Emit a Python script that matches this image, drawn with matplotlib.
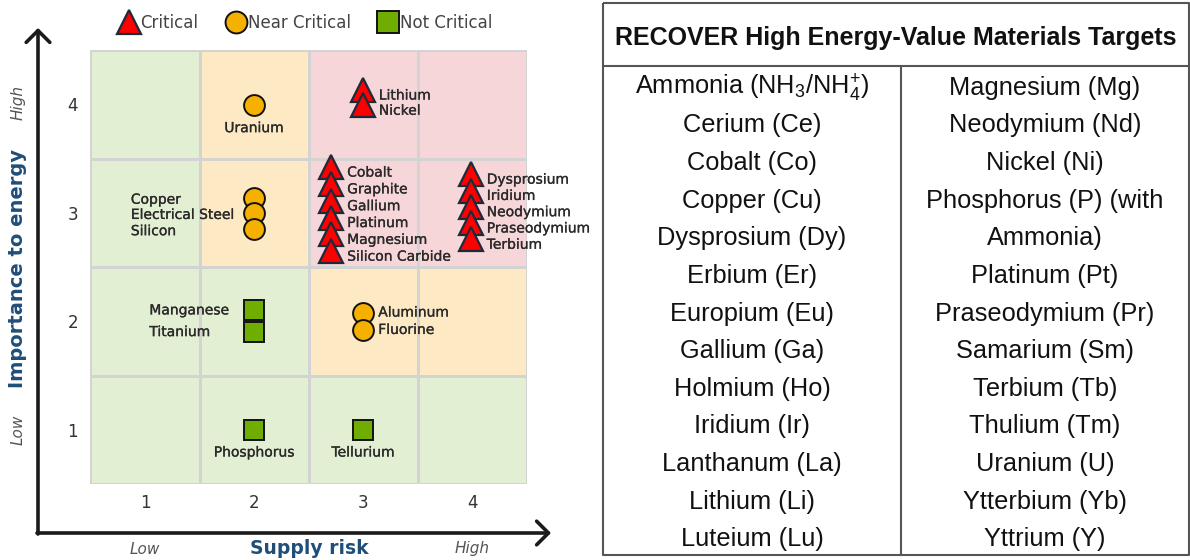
import matplotlib
matplotlib.use('Agg')
import matplotlib.pyplot as plt
import matplotlib.patheffects as pe
from matplotlib.colors import ListedColormap
from matplotlib.lines import Line2D

plt.rcParams['mathtext.fontset'] = 'custom'
plt.rcParams['mathtext.rm'] = 'Liberation Sans'

# ---- data ----
levels = [1, 2, 3, 4]
# zone of every cell, rows = importance 1..4, cols = supply risk 1..4
# 0 = not critical, 1 = near critical, 2 = critical
zones = [[0, 0, 0, 0],
         [0, 0, 1, 1],
         [0, 1, 2, 2],
         [0, 1, 2, 2]]

crit_top = ['Lithium', 'Nickel']
crit_top_x = [3.0, 3.0]
crit_top_y = [4.13, 3.99]
crit_mid = ['Cobalt', 'Graphite', 'Gallium', 'Platinum', 'Magnesium', 'Silicon Carbide']
crit_mid_x = [2.71, 2.71, 2.71, 2.71, 2.71, 2.71]
crit_mid_y = [3.42, 3.265, 3.11, 2.955, 2.80, 2.645]
crit_right = ['Dysprosium', 'Iridium', 'Neodymium', 'Praseodymium', 'Terbium']
crit_right_x = [3.99, 3.99, 3.99, 3.99, 3.99]
crit_right_y = [3.355, 3.205, 3.055, 2.905, 2.755]

near_uranium = ['Uranium']
near_uranium_x = [2.0]
near_uranium_y = [3.99]
near_left = ['Copper', 'Electrical Steel', 'Silicon']
near_left_x = [2.0, 2.0, 2.0]
near_left_y = [3.14, 3.0, 2.85]
near_right = ['Aluminum', 'Fluorine']
near_right_x = [3.0, 3.0]
near_right_y = [2.08, 1.92]

notc_left = ['Manganese', 'Titanium']
notc_left_x = [2.0, 2.0]
notc_left_y = [2.10, 1.90]
notc_low = ['Phosphorus', 'Tellurium']
notc_low_x = [2.0, 3.0]
notc_low_y = [1.0, 1.0]

table_title = 'RECOVER High Energy-Value Materials Targets'
table_left = ['Ammonia (NH$_3$/NH$_4^{+}$)', 'Cerium (Ce)', 'Cobalt (Co)', 'Copper (Cu)',
              'Dysprosium (Dy)', 'Erbium (Er)', 'Europium (Eu)', 'Gallium (Ga)',
              'Holmium (Ho)', 'Iridium (Ir)', 'Lanthanum (La)', 'Lithium (Li)', 'Luteium (Lu)']
table_right = ['Magnesium (Mg)', 'Neodymium (Nd)', 'Nickel (Ni)', 'Phosphorus (P) (with',
               'Ammonia)', 'Platinum (Pt)', 'Praseodymium (Pr)', 'Samarium (Sm)',
               'Terbium (Tb)', 'Thulium (Tm)', 'Uranium (U)', 'Ytterbium (Yb)', 'Yttrium (Y)']

# ---- style ----
zone_colors = ['#e3efd3', '#fdeac4', '#f7d6d9']
tri_style = dict(marker='^', markersize=17, markerfacecolor='#ff0000',
                 markeredgecolor='#1c2b3c', markeredgewidth=1.6, linestyle='none')
circ_style = dict(marker='o', markersize=15, markerfacecolor='#f6b100',
                  markeredgecolor='#111111', markeredgewidth=1.4, linestyle='none')
sq_style = dict(marker='s', markersize=15, markerfacecolor='#6fad00',
                markeredgecolor='#111111', markeredgewidth=1.4, linestyle='none')
lab = dict(fontsize=10, color='#2a2a2a',
           path_effects=[pe.withStroke(linewidth=0.2, foreground='#2a2a2a')])
blue = '#1f4e79'

W, H = 1190, 560
fig = plt.figure(figsize=(W / 100, H / 100), dpi=100)

# background overlay in pixel units (arrows, table)
bg = fig.add_axes([0, 0, 1, 1])
bg.set_xlim(0, W)
bg.set_ylim(H, 0)
bg.axis('off')

arrow = dict(arrowstyle='->,head_length=0.85,head_width=0.85', lw=2.6,
             color='#1a1a1a', shrinkA=0, shrinkB=0)
bg.annotate('', xy=(38, 28), xytext=(38, 534), arrowprops=arrow)
bg.annotate('', xy=(551, 533), xytext=(37, 533), arrowprops=arrow)

# ---- matrix chart ----
ax = fig.add_axes([90.5 / W, 1 - 484 / H, 436 / W, 434 / H])
edges = [0.5, 1.5, 2.5, 3.5, 4.5]
ax.pcolormesh(edges, edges, zones, cmap=ListedColormap(zone_colors),
              vmin=-0.5, vmax=2.5, edgecolors='#d3d3d3', linewidth=0.8)
ax.set_xlim(0.5, 4.5)
ax.set_ylim(0.5, 4.5)
ax.set_xticks(levels)
ax.set_yticks(levels)
ax.tick_params(length=0, labelsize=12, labelcolor='#333333')
ax.tick_params(axis='x', pad=7)
ax.tick_params(axis='y', pad=9)
for s in ax.spines.values():
    s.set_visible(False)

# critical
ax.plot(crit_top_x, crit_top_y, **tri_style)
ax.plot(crit_mid_x, crit_mid_y, **tri_style)
ax.plot(crit_right_x, crit_right_y, **tri_style)
for names, xs, ys in [(crit_top, crit_top_x, crit_top_y),
                      (crit_mid, crit_mid_x, crit_mid_y),
                      (crit_right, crit_right_x, crit_right_y)]:
    for n, x, y in zip(names, xs, ys):
        ax.text(x + 0.145, y - 0.05, n, ha='left', va='center', **lab)

# near critical
ax.plot(near_uranium_x, near_uranium_y, **circ_style)
ax.plot(near_left_x, near_left_y, **circ_style)
ax.plot(near_right_x, near_right_y, **circ_style)
for n, x, y in zip(near_uranium, near_uranium_x, near_uranium_y):
    ax.text(x, y - 0.21, n, ha='center', va='center', **lab)
for n, x, y in zip(near_left, near_left_x, near_left_y):
    ax.text(x - 1.13, y - 0.02, n, ha='left', va='center', **lab)
for n, x, y in zip(near_right, near_right_x, near_right_y):
    ax.text(x + 0.14, y, n, ha='left', va='center', **lab)

# not critical
ax.plot(notc_left_x, notc_left_y, **sq_style)
ax.plot(notc_low_x, notc_low_y, **sq_style)
for n, x, y in zip(notc_left, notc_left_x, notc_left_y):
    ax.text(x - 0.96, y, n, ha='left', va='center', **lab)
for n, x, y in zip(notc_low, notc_low_x, notc_low_y):
    ax.text(x, y - 0.21, n, ha='center', va='center', **lab)

# legend
handles = [Line2D([], [], **tri_style), Line2D([], [], **circ_style), Line2D([], [], **sq_style)]
fig.legend(handles, ['Critical', 'Near Critical', 'Not Critical'], ncol=3, frameon=False,
           loc='center', bbox_to_anchor=(305 / W, 1 - 23 / H), fontsize=12,
           labelcolor='#444444', handletextpad=0.05, columnspacing=1.6, handlelength=1.3,
           markerscale=1.05)

# axis words
fig.text(309 / W, 1 - 549 / H, 'Supply risk', ha='center', va='center',
         fontsize=13.5, fontweight='bold', color=blue)
fig.text(145 / W, 1 - 549 / H, 'Low', ha='center', va='center', fontsize=11,
         style='italic', color='#555555')
fig.text(472 / W, 1 - 549 / H, 'High', ha='center', va='center', fontsize=11,
         style='italic', color='#555555')
fig.text(18 / W, 1 - 268 / H, 'Importance to energy', ha='center', va='center',
         rotation=90, fontsize=14, fontweight='bold', color=blue)
fig.text(18 / W, 1 - 102 / H, 'High', ha='center', va='center', rotation=90,
         fontsize=11, style='italic', color='#555555')
fig.text(18 / W, 1 - 430 / H, 'Low', ha='center', va='center', rotation=90,
         fontsize=11, style='italic', color='#555555')

# ---- table ----
tl, tr, tt, tb, th, tm = 603, 1189, 3, 555, 66, 901
line = dict(color='#555555', lw=1.5, solid_capstyle='butt')
bg.plot([tl, tr, tr, tl, tl], [tt, tt, tb, tb, tt], **line)
bg.plot([tl, tr], [th, th], **line)
bg.plot([tm, tm], [th, tb], **line)
bg.text((tl + tr) / 2, (tt + th) / 2 + 3, table_title, ha='center', va='center',
        fontsize=18, fontweight='bold', family='Liberation Sans', color='#111111')
row_h = (tb - th) / len(table_left)
for i, (a, b) in enumerate(zip(table_left, table_right)):
    y = th + row_h * (i + 0.5) + 3
    bg.text((tl + tm) / 2, y, a, ha='center', va='center', fontsize=18.3,
            family='Liberation Sans', color='#111111')
    bg.text((tm + tr) / 2, y, b, ha='center', va='center', fontsize=18.3,
            family='Liberation Sans', color='#111111')

fig.savefig('out.png', dpi=100)
